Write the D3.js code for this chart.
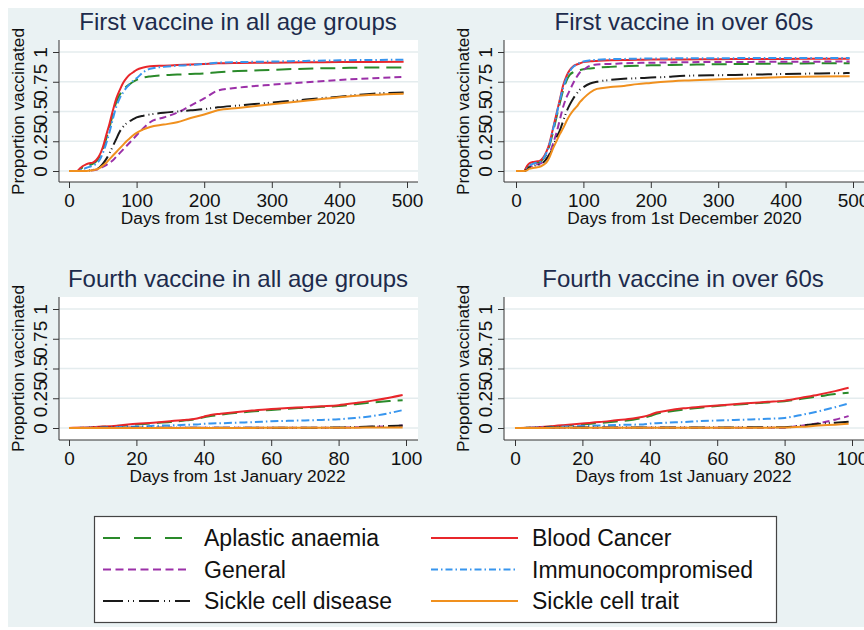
<!DOCTYPE html>
<html><head><meta charset="utf-8">
<script src="https://cdn.jsdelivr.net/npm/d3@7"></script>
<style>body{margin:0;background:#fff;} text{font-family:"Liberation Sans",Arial,sans-serif;}</style>
</head><body><svg id="c" width="864" height="630"></svg>
<script>
// ---------------- DATA ----------------
const seriesNames = ["Aplastic anaemia","Blood Cancer","General","Immunocompromised","Sickle cell disease","Sickle cell trait"];
const yTicks = [0, 0.25, 0.5, 0.75, 1];
const yTickLabels = ["0","0.25","0.5","0.75","1"];
const xTicksFirst = [0,100,200,300,400,500];
const xTicksFourth = [0,20,40,60,80,100];

const daysFirst = [0,12,16,20,25,30,35,40,45,50,55,60,65,70,75,80,85,90,95,100,110,120,140,160,180,200,220,250,300,350,400,450,495];
// First vaccine, all age groups
const firstAllAplastic = [0,0,0.01,0.03,0.04,0.05,0.06,0.08,0.12,0.18,0.27,0.37,0.48,0.58,0.64,0.68,0.71,0.73,0.75,0.765,0.785,0.795,0.805,0.81,0.815,0.82,0.83,0.84,0.85,0.86,0.865,0.87,0.87];
const firstAllBlood    = [0,0,0.02,0.04,0.055,0.065,0.07,0.09,0.13,0.20,0.30,0.40,0.51,0.61,0.68,0.74,0.78,0.81,0.83,0.85,0.87,0.88,0.885,0.89,0.895,0.90,0.905,0.908,0.91,0.913,0.915,0.917,0.918];
const firstAllGeneral  = [0,0,0,0,0,0.003,0.006,0.01,0.02,0.035,0.05,0.07,0.09,0.12,0.15,0.18,0.21,0.24,0.27,0.30,0.36,0.41,0.45,0.49,0.55,0.61,0.675,0.70,0.725,0.745,0.765,0.78,0.79];
const firstAllImmuno   = [0,0,0.005,0.015,0.025,0.035,0.045,0.06,0.09,0.15,0.23,0.33,0.44,0.54,0.61,0.66,0.70,0.73,0.76,0.78,0.83,0.86,0.875,0.885,0.89,0.90,0.91,0.915,0.92,0.925,0.93,0.933,0.935];
const firstAllSCD      = [0,0,0,0,0.003,0.005,0.008,0.015,0.03,0.06,0.10,0.15,0.21,0.27,0.33,0.37,0.40,0.42,0.435,0.45,0.465,0.475,0.49,0.50,0.51,0.52,0.535,0.55,0.575,0.60,0.625,0.65,0.66];
const firstAllSCT      = [0,0,0,0,0,0.003,0.006,0.012,0.025,0.045,0.07,0.10,0.13,0.16,0.19,0.22,0.25,0.275,0.30,0.32,0.35,0.37,0.39,0.41,0.445,0.475,0.51,0.53,0.56,0.59,0.62,0.64,0.65];
// First vaccine, over 60s
const first60Aplastic = [0,0,0.03,0.055,0.065,0.07,0.075,0.10,0.14,0.22,0.33,0.45,0.57,0.68,0.76,0.81,0.83,0.84,0.848,0.855,0.862,0.868,0.875,0.88,0.885,0.888,0.89,0.893,0.897,0.90,0.903,0.905,0.906];
const first60Blood    = [0,0,0.04,0.065,0.075,0.08,0.085,0.11,0.16,0.24,0.36,0.48,0.60,0.72,0.80,0.85,0.88,0.895,0.905,0.915,0.922,0.925,0.93,0.933,0.935,0.936,0.937,0.938,0.94,0.941,0.942,0.943,0.943];
const first60General  = [0,0,0.01,0.03,0.045,0.055,0.06,0.075,0.10,0.15,0.23,0.32,0.43,0.54,0.62,0.68,0.74,0.79,0.83,0.85,0.885,0.895,0.90,0.905,0.908,0.91,0.912,0.914,0.916,0.917,0.918,0.919,0.92];
const first60Immuno   = [0,0,0.02,0.045,0.06,0.07,0.075,0.10,0.15,0.23,0.35,0.47,0.59,0.70,0.78,0.84,0.875,0.895,0.91,0.92,0.93,0.935,0.94,0.942,0.944,0.945,0.946,0.947,0.948,0.949,0.95,0.95,0.95];
const first60SCD      = [0,0,0.01,0.03,0.04,0.05,0.055,0.07,0.10,0.14,0.20,0.28,0.34,0.42,0.50,0.56,0.61,0.65,0.685,0.705,0.735,0.75,0.765,0.775,0.78,0.785,0.79,0.80,0.805,0.81,0.815,0.82,0.823];
const first60SCT      = [0,0,0.005,0.02,0.025,0.03,0.035,0.05,0.07,0.12,0.19,0.25,0.31,0.36,0.42,0.47,0.51,0.54,0.58,0.61,0.66,0.69,0.705,0.715,0.73,0.74,0.75,0.76,0.77,0.78,0.79,0.795,0.797];

const daysFourth = [0,5,10,15,20,25,30,35,38,40,42,45,50,55,60,65,70,75,80,85,90,95,99];
// Fourth vaccine, all age groups
const fourthAllAplastic = [0,0.003,0.01,0.018,0.03,0.04,0.05,0.065,0.075,0.09,0.10,0.112,0.128,0.14,0.152,0.162,0.17,0.178,0.185,0.20,0.214,0.226,0.234];
const fourthAllBlood    = [0,0.005,0.012,0.022,0.035,0.045,0.057,0.07,0.08,0.095,0.11,0.12,0.135,0.148,0.16,0.168,0.175,0.183,0.192,0.21,0.23,0.255,0.278];
const fourthAllGeneral  = [0,0.001,0.001,0.002,0.002,0.002,0.002,0.002,0.002,0.002,0.002,0.002,0.002,0.002,0.002,0.002,0.002,0.002,0.003,0.006,0.01,0.015,0.02];
const fourthAllImmuno   = [0,0.002,0.005,0.008,0.012,0.018,0.022,0.027,0.03,0.035,0.038,0.04,0.045,0.05,0.056,0.06,0.064,0.068,0.073,0.085,0.10,0.125,0.15];
const fourthAllSCD      = [0,0.001,0.002,0.002,0.003,0.003,0.003,0.003,0.003,0.003,0.003,0.003,0.003,0.003,0.003,0.003,0.003,0.003,0.004,0.007,0.012,0.016,0.02];
const fourthAllSCT      = [0,0.001,0.001,0.001,0.001,0.001,0.001,0.001,0.001,0.001,0.001,0.001,0.001,0.001,0.002,0.002,0.002,0.002,0.002,0.003,0.004,0.004,0.005];
// Fourth vaccine, over 60s
const fourth60Aplastic = [0,0.003,0.01,0.02,0.03,0.042,0.055,0.07,0.085,0.10,0.12,0.135,0.155,0.17,0.185,0.195,0.205,0.215,0.225,0.245,0.265,0.285,0.296];
const fourth60Blood    = [0,0.005,0.013,0.025,0.038,0.05,0.065,0.08,0.095,0.11,0.13,0.145,0.165,0.178,0.19,0.20,0.21,0.22,0.23,0.255,0.28,0.31,0.338];
const fourth60General  = [0,0.001,0.002,0.002,0.002,0.002,0.002,0.002,0.002,0.002,0.002,0.002,0.002,0.002,0.002,0.002,0.002,0.002,0.003,0.02,0.04,0.07,0.10];
const fourth60Immuno   = [0,0.002,0.006,0.012,0.016,0.02,0.025,0.028,0.03,0.037,0.04,0.045,0.05,0.058,0.063,0.067,0.072,0.077,0.085,0.11,0.14,0.175,0.206];
const fourth60SCD      = [0,0.002,0.004,0.005,0.005,0.005,0.005,0.005,0.005,0.005,0.005,0.005,0.005,0.005,0.005,0.005,0.006,0.006,0.007,0.02,0.035,0.045,0.052];
const fourth60SCT      = [0,0.001,0.001,0.002,0.002,0.002,0.002,0.002,0.002,0.002,0.002,0.002,0.002,0.002,0.002,0.003,0.003,0.003,0.004,0.01,0.02,0.028,0.035];

// ---------------- STYLES ----------------
const styles = [
  {color:"#2a8a2a", dash:"15,7",            legendDash:"17,14"},
  {color:"#e8262b", dash:null,              legendDash:null},
  {color:"#9b30a8", dash:"7,4",             legendDash:"8,4.5"},
  {color:"#3795ee", dash:"8,3,1.5,3",       legendDash:"7,3,1.5,3"},
  {color:"#1a1a1a", dash:"16,4,1,3,1,4",    legendDash:"20,5,1,4,1,5"},
  {color:"#f0901e", dash:null,              legendDash:null}
];

const panels = [
  {title:"First vaccine in all age groups", xlab:"Days from 1st December 2020", days:daysFirst, xDomain:[0,500], xTicks:xTicksFirst,
   series:[firstAllAplastic,firstAllBlood,firstAllGeneral,firstAllImmuno,firstAllSCD,firstAllSCT],
   box:[59,40,418,182], xr:[69,407], yr:[171,52], tx:238, ty:30},
  {title:"First vaccine in over 60s", xlab:"Days from 1st December 2020", days:daysFirst, xDomain:[0,500], xTicks:xTicksFirst,
   series:[first60Aplastic,first60Blood,first60General,first60Immuno,first60SCD,first60SCT],
   box:[504,40,870,182], xr:[516,853], yr:[171,52], tx:684, ty:30},
  {title:"Fourth vaccine in all age groups", xlab:"Days from 1st January 2022", days:daysFourth, xDomain:[0,100], xTicks:xTicksFourth,
   series:[fourthAllAplastic,fourthAllBlood,fourthAllGeneral,fourthAllImmuno,fourthAllSCD,fourthAllSCT],
   box:[59,297,418,440], xr:[69,406], yr:[428,309], tx:238, ty:287},
  {title:"Fourth vaccine in over 60s", xlab:"Days from 1st January 2022", days:daysFourth, xDomain:[0,100], xTicks:xTicksFourth,
   series:[fourth60Aplastic,fourth60Blood,fourth60General,fourth60Immuno,fourth60SCD,fourth60SCT],
   box:[504,297,870,440], xr:[515,852], yr:[428,309], tx:683, ty:287}
];

const svg = d3.select("#c");
svg.append("rect").attr("x",8).attr("y",8).attr("width",870).attr("height",619).attr("fill","#eaf2f3");

panels.forEach(p => {
  const [x0,y0,x1,y1] = p.box;
  const x = d3.scaleLinear().domain(p.xDomain).range(p.xr);
  const y = d3.scaleLinear().domain([0,1]).range(p.yr);
  const g = svg.append("g");
  g.append("rect").attr("x",x0).attr("y",y0).attr("width",x1-x0).attr("height",y1-y0).attr("fill","#fff");
  // gridlines
  g.selectAll(".grid").data(yTicks).enter().append("line")
    .attr("x1",x0).attr("x2",x1).attr("y1",d=>y(d)).attr("y2",d=>y(d))
    .attr("stroke","#e4ecee").attr("stroke-width",1.3);
  // title
  g.append("text").attr("x",p.tx).attr("y",p.ty).attr("text-anchor","middle")
    .attr("font-size",24).attr("fill","#1d2b4c").text(p.title);
  // x axis
  const xa = d3.axisBottom(x).tickValues(p.xTicks).tickSize(6).tickSizeOuter(0).tickPadding(6);
  const gx = g.append("g").attr("transform",`translate(0,${y1})`).call(xa);
  gx.select(".domain").remove();
  g.append("line").attr("x1",x0).attr("x2",x1).attr("y1",y1).attr("y2",y1).attr("stroke","#333").attr("stroke-width",1);
  gx.selectAll(".tick line").attr("stroke","#333");
  gx.selectAll(".tick text").attr("font-size",19).attr("fill","#111").attr("dy",null).attr("y",25)
    .style("font-family","'Liberation Sans',Arial,sans-serif");
  g.append("text").attr("x",(p.xr[0]+p.xr[1])/2).attr("y",y1+42).attr("text-anchor","middle")
    .attr("font-size",17.3).attr("fill","#111").text(p.xlab);
  // y axis
  const ya = d3.axisLeft(y).tickValues(yTicks).tickSize(6).tickSizeOuter(0).tickFormat((d,i)=>yTickLabels[i]);
  const gy = g.append("g").attr("transform",`translate(${x0},0)`).call(ya);
  gy.select(".domain").remove();
  g.append("line").attr("x1",x0).attr("x2",x0).attr("y1",y0).attr("y2",y1).attr("stroke","#333").attr("stroke-width",1);
  gy.selectAll(".tick line").attr("stroke","#333");
  gy.selectAll(".tick text").attr("font-size",19).attr("fill","#111")
    .attr("x",null).attr("dy",null).attr("text-anchor","middle")
    .attr("transform","translate(-12,0) rotate(-90)")
    .style("font-family","'Liberation Sans',Arial,sans-serif");
  g.append("text").attr("transform",`translate(${x0-35},${y(0.5)}) rotate(-90)`).attr("text-anchor","middle")
    .attr("font-size",17.3).attr("fill","#111").text("Proportion vaccinated");
  // lines
  const line = d3.line().x(d=>x(d[0])).y(d=>y(d[1])).curve(d3.curveMonotoneX);
  p.series.forEach((vals,i) => {
    const pts = p.days.map((d,j)=>[d, vals[j]]);
    const path = g.append("path").attr("d",line(pts)).attr("fill","none")
      .attr("stroke",styles[i].color).attr("stroke-width",2);
    if (styles[i].dash) path.attr("stroke-dasharray",styles[i].dash);
  });
});

// legend
const lg = svg.append("g");
lg.append("rect").attr("x",94.5).attr("y",516.5).attr("width",682).attr("height",106)
  .attr("fill","#fff").attr("stroke","#444").attr("stroke-width",1.2);
const colX = [103, 431];
const rowY = [538, 569.5, 601];
seriesNames.forEach((name,i) => {
  const c = i % 2, r = Math.floor(i/2);
  const lx = colX[c];
  const l = lg.append("line").attr("x1",lx).attr("x2",lx+87).attr("y1",rowY[r]).attr("y2",rowY[r])
    .attr("stroke",styles[i].color).attr("stroke-width",2);
  if (styles[i].legendDash) l.attr("stroke-dasharray",styles[i].legendDash);
  lg.append("text").attr("x",lx+101).attr("y",rowY[r]+8).attr("font-size",23).attr("fill","#111").text(name);
});
</script></body></html>
